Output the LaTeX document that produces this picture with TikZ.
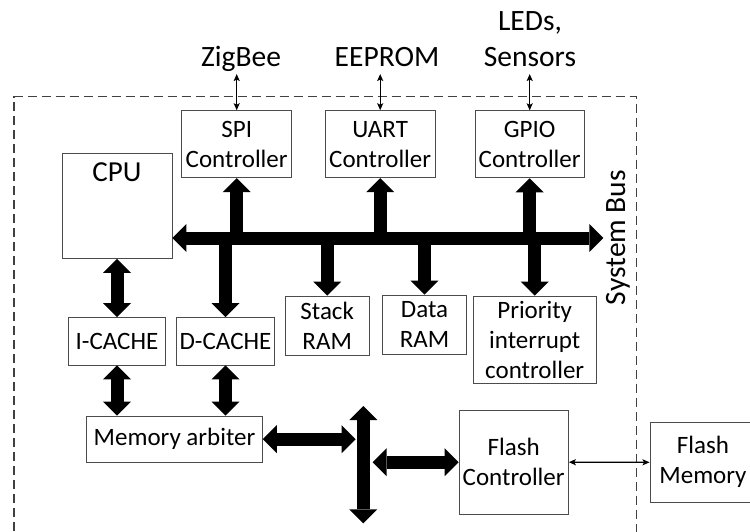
\documentclass[tikz,border=0pt]{standalone}
\usepackage{fontspec}
\setmainfont{Carlito}
\usetikzlibrary{arrows.meta,calc}
\tikzset{
  blk/.style={draw=black!70, line width=0.9pt, fill=white, inner sep=0pt, align=center, font=\fontsize{25}{30}\selectfont},
  lbl/.style={inner sep=0pt, align=center, font=\fontsize{29.5}{36}\selectfont},
  fatline/.style={line width=13pt, draw=black},
  fatboth/.style={fatline, {Triangle[width=28pt,length=14pt,line width=0pt]}-{Triangle[width=28pt,length=14pt,line width=0pt]}},
  fatone/.style={fatline, -{Triangle[width=28pt,length=14pt,line width=0pt]}},
  slim/.style={line width=1.3pt, {Stealth[length=7pt,width=6pt,inset=1.5pt]}-{Stealth[length=7pt,width=6pt,inset=1.5pt]}},
  dashframe/.style={draw=black!75, line width=1.1pt, dash pattern=on 9pt off 5pt},
}
\begin{document}
\begin{tikzpicture}[x=1pt,y=-1pt]
\useasboundingbox (0,0) rectangle (750,531);
% dashed chip boundary
\draw[dashframe] (14,545) -- (14,96.7) -- (636.7,96.7) -- (636.7,545);

% blocks
\node[blk, minimum width=110pt, minimum height=105pt] (cpu) at (117,205.8) {};
\node[lbl, font=\fontsize{29}{35}\selectfont, anchor=base] (cputxt) at ($(cpu.north)+(0,28.4)$) {CPU};
\node[blk, minimum width=110pt, minimum height=67pt] (spi) at (236.7,144.2) {SPI\\Controller};
\node[blk, minimum width=109.7pt, minimum height=67pt] (uart) at (380.2,144.2) {UART\\Controller};
\node[blk, minimum width=109.3pt, minimum height=67pt] (gpio) at (529.7,144.3) {GPIO\\Controller};
\node[blk, minimum width=96.6pt, minimum height=47.3pt] (icache) at (117,341.3) {I-CACHE};
\node[blk, minimum width=97.6pt, minimum height=47.3pt] (dcache) at (225.5,341.3) {D-CACHE};
\node[blk, minimum width=84.3pt, minimum height=59pt] (stack) at (327.2,325.5) {Stack\\RAM};
\node[blk, minimum width=84.4pt, minimum height=59pt] (data) at (424.5,324.5) {Data\\RAM};
\node[blk, minimum width=122.7pt, minimum height=87.3pt] (prio) at (534.7,339.7) {Priority\\interrupt\\controller};
\node[blk, minimum width=175.6pt, minimum height=46.3pt] (arb) at (174.5,439.2) {Memory arbiter};
\node[blk, minimum width=109.3pt, minimum height=104.3pt] (fctrl) at (513.7,462.2) {Flash\\Controller};
\node[blk, minimum width=106pt, minimum height=80pt] (fmem) at (703,462.3) {Flash\\Memory};

% outside labels
\node[lbl, anchor=base] (zig) at (241,66) {ZigBee};
\node[lbl, anchor=base] (eep) at (387,66) {EEPROM};
\node[lbl] (leds) at (530,39.5) {LEDs,\\Sensors};
\node[lbl, anchor=base, rotate=90] (sysbus) at (625,237.5) {System Bus};

% thin external links
\coordinate (zigT) at (236.7,74);
\coordinate (eepT) at (380.2,74);
\coordinate (ledT) at (529.7,74);
\draw[slim] (zigT) -- (spi.north);
\draw[slim] (eepT) -- (uart.north);
\draw[slim] (ledT) -- (gpio.north);

% system bus
\coordinate (busR) at (603.3,238);
\draw[fatone] (spi.south |- busR) -- (spi.south);
\draw[fatone] (uart.south |- busR) -- (uart.south);
\draw[fatone] (gpio.south |- busR) -- (gpio.south);
\draw[fatone] (dcache.north |- busR) -- (dcache.north);
\draw[fatone] (stack.north |- busR) -- (stack.north);
\draw[fatone] (data.north |- busR) -- (data.north);
\draw[fatone] (prio.north |- busR) -- (prio.north);
\draw[fatboth] (cpu.east |- busR) -- (busR);

% cache paths
\draw[fatboth] (cpu.south) -- (icache.north);
\draw[fatboth] (icache.south) -- (icache.south |- arb.north);
\draw[fatboth] (dcache.south) -- (dcache.south |- arb.north);

% memory bus
\coordinate (vtop) at (363.3,406);
\coordinate (vbot) at (363.3,523.3);
\draw[fatboth] (vtop) -- (vbot);
\coordinate (vL) at (355.7,439.2);
\draw[fatboth] (arb.east) -- (vL);
\coordinate (vR) at (372.7,462.2);
\draw[fatboth] (vR) -- (fctrl.west);
\draw[slim] (fctrl.east) -- (fmem.west);
\end{tikzpicture}
\end{document}
